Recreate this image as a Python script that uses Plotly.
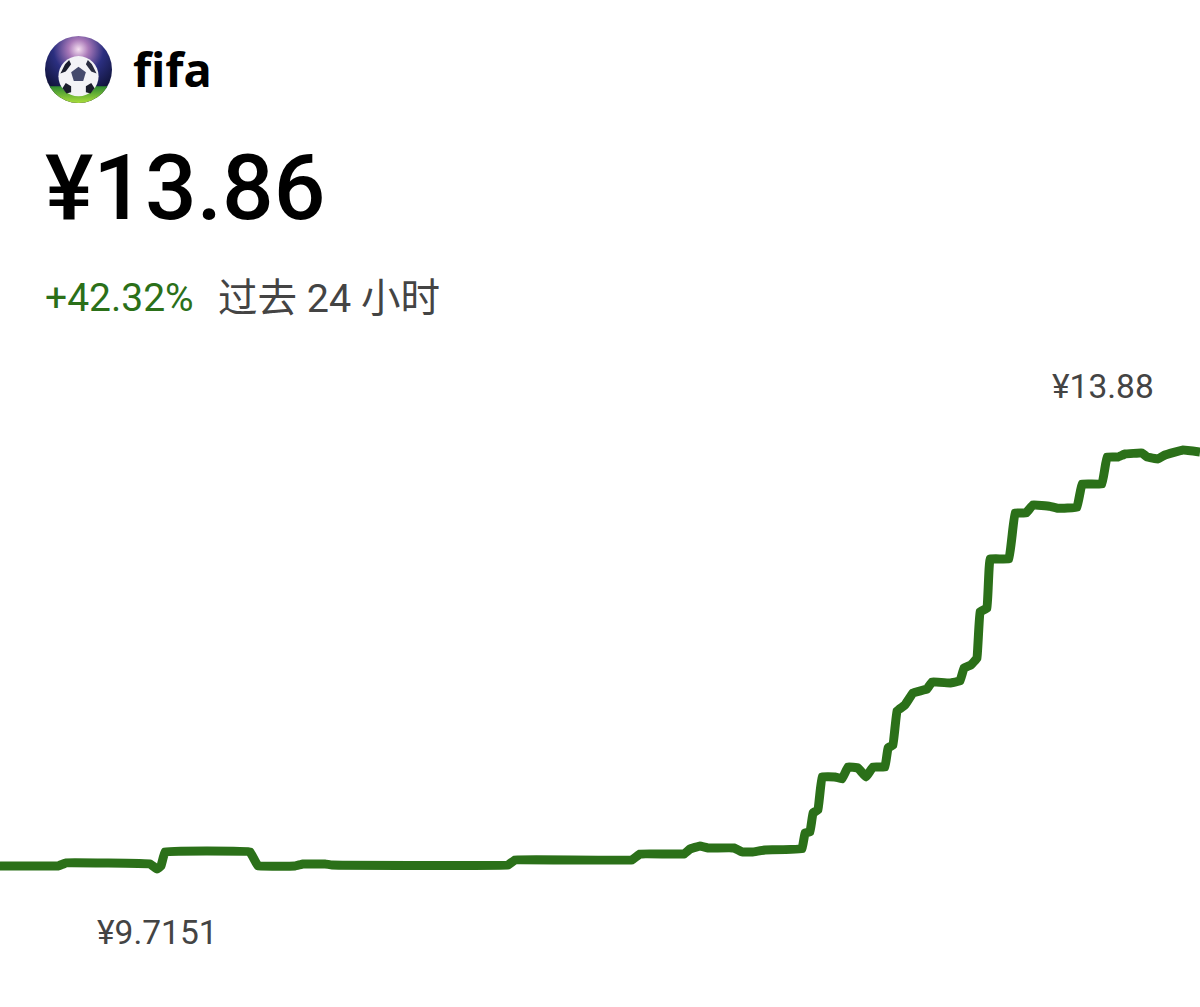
import plotly.graph_objects as go
from urllib.parse import quote

token_name = "fifa"
current_price = "¥13.86"
change_text = "+42.32%"
period_text = "过去 24 小时"
high_label = "¥13.88"
low_label = "¥9.7151"

hours = [0.00, 1.16, 1.32, 3.00, 3.14, 3.22, 3.30, 5.00, 5.16, 5.90, 6.06, 6.50, 6.64,
         10.16, 10.30, 12.64, 12.80, 13.68, 13.80, 14.00, 14.16, 14.68, 14.84, 15.04, 15.30,
         16.04, 16.10, 16.20, 16.26, 16.36, 16.44, 16.70, 16.84, 16.96, 17.16, 17.32, 17.46,
         17.70, 17.76, 17.86, 17.94, 18.10, 18.26, 18.54, 18.64, 19.00, 19.20, 19.28, 19.42,
         19.54, 19.60, 19.74, 19.80, 20.18, 20.30, 20.52, 20.66, 21.00, 21.16, 21.54, 21.64,
         22.04, 22.14, 22.36, 22.50, 22.84, 22.94, 23.16, 23.30, 23.66, 24.00]
prices = [9.745, 9.745, 9.775, 9.765, 9.715, 9.745, 9.884, 9.884, 9.745, 9.745, 9.765, 9.765, 9.755,
          9.755, 9.805, 9.805, 9.864, 9.864, 9.914, 9.944, 9.924, 9.924, 9.884, 9.884, 9.904,
          9.914, 10.073, 10.083, 10.272, 10.302, 10.630, 10.630, 10.610, 10.729, 10.719, 10.630, 10.729,
          10.729, 10.918, 10.948, 11.286, 11.345, 11.465, 11.504, 11.574, 11.564, 11.584, 11.713, 11.743,
          11.812, 12.270, 12.309, 12.797, 12.797, 13.254, 13.254, 13.333, 13.320, 13.300, 13.310, 13.542,
          13.542, 13.810, 13.810, 13.840, 13.850, 13.810, 13.791, 13.830, 13.880, 13.860]

GREEN = "#2b7019"
GREY = "#444444"
FAMILY = "Roboto, Noto Sans CJK SC, sans-serif"


def px_x(v):
    return v / 1200


def px_y(v):
    return 1 - v / 1007


def label(text, x, y, size, color, anchor="left", weight=400, family=FAMILY):
    return dict(text=text, xref="paper", yref="paper", x=px_x(x), y=px_y(y), xanchor=anchor,
                yanchor="middle", showarrow=False,
                font=dict(size=size, color=color, family=family, weight=weight),
                borderpad=0, borderwidth=0)


icon_svg = """<svg xmlns='http://www.w3.org/2000/svg' viewBox='0 0 200 200'>
<defs>
<radialGradient id='g' cx='0.5' cy='0.2' r='0.75'><stop offset='0' stop-color='#f5dff0'/><stop offset='0.2' stop-color='#a878b8'/>
<stop offset='0.5' stop-color='#2b2f80'/><stop offset='1' stop-color='#0b0e2c'/></radialGradient>
<linearGradient id='f' x1='0' y1='0' x2='0' y2='1'><stop offset='0' stop-color='#2f8a30'/><stop offset='1' stop-color='#aade3c'/></linearGradient>
<clipPath id='c'><circle cx='100' cy='100' r='100'/></clipPath></defs>
<g clip-path='url(#c)'><rect width='200' height='200' fill='url(#g)'/>
<rect y='150' width='200' height='50' fill='url(#f)'/>
<circle cx='100' cy='120' r='60' fill='#f3f3f6'/>
<polygon points='100,92 122,108 114,134 86,134 78,108' fill='#454a6c'/>
<polygon points='62,140 78,150 78,168 64,172 52,156' fill='#1a1d2c'/>
<polygon points='138,140 122,150 122,168 136,172 148,156' fill='#1a1d2c'/>
<polygon points='60,84 72,72 78,84 62,106 46,112' fill='#1a1d2c'/>
<polygon points='140,84 128,72 122,84 138,106 154,112' fill='#2a2d40'/>
</g></svg>"""

fig = go.Figure(
    go.Scatter(x=hours, y=prices, mode="lines", hoverinfo="skip",
               line=dict(color=GREEN, width=9, shape="spline", smoothing=0.15))
)
fig.update_layout(
    width=1200, height=1007, margin=dict(l=0, r=0, t=0, b=0),
    paper_bgcolor="white", plot_bgcolor="white", showlegend=False,
    xaxis=dict(range=[0, 24], visible=False, fixedrange=True),
    yaxis=dict(range=[8.343, 18.353], visible=False, fixedrange=True),
    annotations=[
        label(token_name, 133, 69, 47, "#000000", weight=700, family="Noto Sans, sans-serif"),
        label(current_price, 45, 188, 91, "#000000", weight=500),
        label(change_text, 45, 298, 39, GREEN),
        label(period_text, 218, 298, 39.5, GREY),
        label(high_label, 1103, 386, 33.5, GREY, anchor="center"),
        label(low_label, 157, 932, 33.5, GREY, anchor="center"),
    ],
    images=[dict(source="data:image/svg+xml," + quote(icon_svg), xref="paper", yref="paper",
                 x=px_x(45), y=px_y(36), sizex=67 / 1200, sizey=67 / 1007,
                 xanchor="left", yanchor="top", sizing="stretch", layer="above")],
)
fig.write_html("out.html", config={"displayModeBar": False},
               post_script="document.body.style.margin='0';")
